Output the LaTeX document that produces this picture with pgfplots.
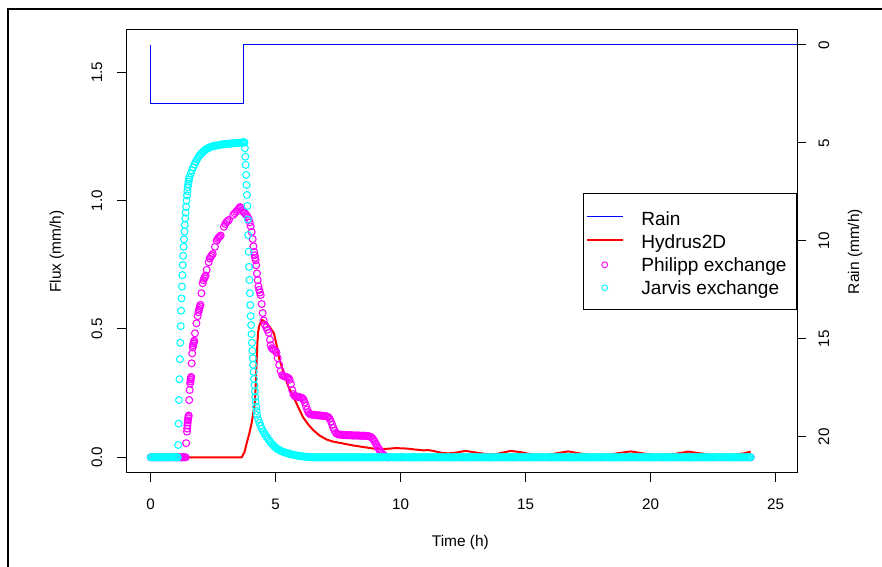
\documentclass[border=0pt]{standalone}
\usepackage{fontspec}
\setmainfont{Liberation Sans}
\usepackage{pgfplots}
\pgfplotsset{compat=1.18}
\definecolor{rmag}{RGB}{255,0,255}
\definecolor{rcyan}{RGB}{0,255,255}
\definecolor{rred}{RGB}{255,0,0}
\definecolor{rblue}{RGB}{0,0,255}
\pgfplotsset{
 rbase/.style={
  at={(94.875pt,70.5pt)}, anchor=south west,
  scale only axis, width=502.875pt, height=332.25pt,
  xmin=-0.968, xmax=25.852,
  tick align=outside, major tick length=6.75pt,
  tick style={black, line width=0.75pt},
  axis line style={black, line width=0.75pt},
  /pgf/number format/assume math mode=true,
  ticklabel style={font=\fontsize{11.4}{13}\selectfont},
 },
 rmarks/.style={only marks, mark=o, mark size=2.6pt, line width=0.8pt, forget plot},
 lineleg/.style={legend image code/.code={\draw[##1] (0pt,0pt) -- (27pt,0pt);}},
 markleg/.style={legend image code/.code={\draw[mark repeat=1,##1] plot coordinates {(13.5pt,-1.4pt)};}},
}
\begin{document}
\begin{tikzpicture}
\useasboundingbox (0pt,0pt) rectangle (661.5pt,425.25pt);
\draw[line width=1.5pt] (6.2pt,-3pt) -- (6.2pt,418.3pt) -- (665pt,418.3pt);
\begin{axis}[rbase,
  ymin=-0.0612, ymax=1.6646,
  xtick={0,5,10,15,20,25}, xtick pos=bottom,
  ytick={0,0.5,1,1.5}, yticklabels={0.0,0.5,1.0,1.5}, ytick pos=left,
  xticklabel style={anchor=center, yshift=-16.5pt},
  yticklabel style={xshift=-15.4pt, rotate=90, anchor=center},
  xlabel={Time (h)}, ylabel={Flux (mm/h)},
  every axis x label/.style={at={(axis description cs:0.498,-0.158)}, anchor=center, font=\fontsize{11.6}{14}\selectfont},
  every axis y label/.style={at={(axis description cs:-0.1037,0.5)}, rotate=90, anchor=center, font=\fontsize{11.6}{14}\selectfont},
  legend cell align=left,
  legend style={at={(1,0.632)}, anchor=north east, draw=black, line width=0.6pt, fill=white,
    inner xsep=2pt, inner ysep=9pt, font=\fontsize{14.3}{16}\selectfont, row sep=0pt,
    nodes={inner sep=0pt, text height=15pt, text depth=2.25pt},
    /tikz/every odd column/.append style={column sep=13.5pt}},
]
\addlegendimage{rblue, line width=0.75pt, lineleg}
\addlegendentry{Rain}
\addlegendimage{rred, line width=1pt, lineleg}
\addlegendentry{Hydrus2D}
\addlegendimage{only marks, mark=o, rmag, mark size=2.2pt, line width=0.7pt, markleg}
\addlegendentry{Philipp exchange\hspace*{5.5pt}}
\addlegendimage{only marks, mark=o, rcyan, mark size=2.2pt, line width=0.7pt, markleg}
\addlegendentry{Jarvis exchange}

% Hydrus2D
\addplot[rred, line width=1.5pt, line join=round, forget plot] coordinates {
(0,0)(3.64,0)(3.75,0.02)(3.84,0.055)(3.95,0.095)(4.04,0.135)(4.10,0.17)(4.17,0.215)
(4.21,0.30)(4.24,0.38)(4.27,0.45)(4.30,0.49)(4.35,0.515)(4.44,0.535)(4.50,0.533)
(4.64,0.522)(4.78,0.505)(4.93,0.483)(5.04,0.435)(5.14,0.385)(5.30,0.335)(5.50,0.277)
(5.77,0.223)(5.95,0.185)(6.10,0.155)(6.30,0.128)(6.50,0.106)(6.75,0.085)(7.04,0.069)
(7.30,0.061)(7.57,0.056)(8.10,0.046)(8.64,0.038)(8.90,0.034)(9.20,0.033)(9.44,0.033)
(9.6,0.034)(9.8,0.036)(10.0,0.035)(10.24,0.034)(10.6,0.030)(10.9,0.027)(11.1,0.028)
(11.3,0.025)(11.6,0.018)(11.9,0.015)(12.2,0.018)(12.6,0.025)(12.9,0.020)(13.4,0.013)
(13.8,0.012)(14.4,0.025)(14.8,0.020)(15.3,0.010)(15.8,0.008)(16.2,0.015)(16.7,0.023)
(17.1,0.016)(17.6,0.008)(18.2,0.008)(18.7,0.016)(19.2,0.023)(19.7,0.015)(20.3,0.007)
(20.9,0.012)(21.5,0.022)(22.0,0.015)(22.6,0.007)(23.2,0.008)(23.7,0.015)(24.0,0.022)};

% Philipp exchange
\addplot[rmarks, rmag] coordinates {
(0,0)(0.1,0)(0.2,0)(0.3,0)(0.4,0)(0.5,0)(0.6,0)(0.7,0)(0.8,0)(0.9,0)(1.0,0)
(1.05,0)(1.1,0)(1.15,0)(1.2,0)(1.25,0)(1.3,0)(1.35,0)(1.4,0)
(1.4167,0.055)(1.45,0.100)(1.46,0.112)(1.47,0.124)(1.48,0.135)(1.49,0.144)(1.50,0.152)
(1.51,0.158)(1.52,0.163)(1.54,0.223)(1.56,0.262)(1.58,0.288)(1.59,0.296)(1.60,0.303)
(1.61,0.309)(1.62,0.313)(1.64,0.366)(1.66,0.405)(1.68,0.428)(1.695,0.436)(1.71,0.443)
(1.725,0.449)(1.74,0.454)(1.77,0.483)(1.83,0.522)(1.88,0.550)(1.91,0.565)(1.93,0.574)
(1.95,0.581)(1.97,0.588)(1.99,0.594)(2.03,0.639)(2.08,0.678)(2.11,0.690)(2.14,0.697)
(2.17,0.703)(2.20,0.708)(2.24,0.730)(2.32,0.760)(2.36,0.774)(2.40,0.781)(2.44,0.787)
(2.48,0.792)(2.57,0.820)(2.64,0.844)(2.68,0.851)(2.72,0.856)(2.76,0.860)(2.80,0.864)
(2.93,0.898)(2.98,0.909)(3.03,0.916)(3.08,0.921)(3.13,0.925)(3.30,0.944)(3.36,0.951)
(3.42,0.957)(3.48,0.964)(3.53,0.969)(3.57,0.975)(3.62,0.972)(3.67,0.962)(3.72,0.955)
(3.77,0.950)(3.82,0.945)(3.87,0.938)(3.92,0.928)(3.96,0.915)(4.00,0.900)(4.04,0.878)
(4.08,0.850)(4.11,0.822)(4.14,0.800)(4.16,0.787)(4.18,0.777)(4.20,0.768)(4.22,0.748)
(4.25,0.716)(4.28,0.690)(4.31,0.666)(4.34,0.652)(4.37,0.642)(4.40,0.632)(4.44,0.597)
(4.48,0.562)(4.52,0.533)(4.57,0.516)(4.62,0.506)(4.67,0.497)(4.72,0.485)(4.77,0.458)
(4.80,0.437)(4.84,0.425)(4.89,0.421)(4.94,0.418)(4.99,0.415)(5.03,0.408)(5.08,0.386)
(5.14,0.360)(5.20,0.336)(5.26,0.320)(5.31,0.317)(5.36,0.315)(5.41,0.313)(5.46,0.311)
(5.51,0.309)(5.56,0.302)(5.61,0.285)(5.66,0.262)(5.71,0.246)(5.76,0.239)(5.81,0.237)
(5.86,0.236)(5.91,0.235)(5.96,0.234)(6.01,0.233)(6.06,0.231)(6.11,0.226)(6.16,0.214)
(6.21,0.200)(6.26,0.186)(6.31,0.175)(6.36,0.169)(6.41,0.167)(6.46,0.166)(6.51,0.165)
(6.56,0.165)(6.61,0.164)(6.66,0.164)(6.71,0.163)(6.76,0.163)(6.81,0.162)(6.86,0.162)
(6.91,0.161)(6.96,0.161)(7.01,0.160)(7.06,0.159)(7.11,0.156)(7.16,0.150)(7.21,0.140)
(7.26,0.127)(7.31,0.114)(7.36,0.103)(7.41,0.095)(7.46,0.091)(7.51,0.089)(7.56,0.088)
(7.61,0.088)(7.66,0.087)(7.71,0.087)(7.76,0.087)(7.81,0.086)(7.86,0.086)(7.91,0.086)
(7.96,0.086)(8.01,0.086)(8.06,0.085)(8.11,0.085)(8.16,0.085)(8.21,0.085)(8.26,0.085)
(8.31,0.085)(8.36,0.084)(8.41,0.084)(8.46,0.084)(8.51,0.084)(8.56,0.084)(8.61,0.083)
(8.66,0.083)(8.71,0.082)(8.76,0.081)(8.81,0.079)(8.86,0.075)(8.91,0.069)(8.96,0.061)
(9.01,0.052)(9.06,0.043)(9.11,0.035)(9.16,0.027)(9.21,0.020)(9.26,0.014)(9.31,0.009)
(9.36,0.005)(9.41,0.002)(9.46,0)(9.5,0)(10,0)(10.5,0)(11,0)(11.5,0)(12,0)(12.5,0)
(13,0)(13.5,0)(14,0)(14.5,0)(15,0)(15.5,0)(16,0)(16.5,0)(17,0)(17.5,0)(18,0)(18.5,0)
(19,0)(19.5,0)(20,0)(20.5,0)(21,0)(21.5,0)(22,0)(22.5,0)(23,0)(23.5,0)(24,0)};

% Jarvis exchange
\addplot[rmarks, rcyan] coordinates {
(0,0)(0.05,0)(0.1,0)(0.15,0)(0.2,0)(0.25,0)(0.3,0)(0.35,0)(0.4,0)(0.45,0)(0.5,0)
(0.55,0)(0.6,0)(0.65,0)(0.7,0)(0.75,0)(0.8,0)(0.85,0)(0.9,0)(0.95,0)(1.0,0)(1.05,0)
(1.0667,0)(1.0833,0)
(1.1,0.048)(1.1167,0.131)(1.1333,0.223)(1.15,0.304)(1.1667,0.382)(1.1833,0.446)
(1.2,0.511)(1.2167,0.571)(1.2333,0.619)(1.25,0.665)(1.2667,0.710)(1.2833,0.749)
(1.3,0.785)(1.3167,0.820)(1.3333,0.849)(1.35,0.879)(1.3667,0.905)(1.3833,0.931)
(1.4,0.953)(1.4167,0.976)(1.4333,1.000)(1.45,1.020)(1.4667,1.037)(1.4833,1.052)
(1.5,1.064)(1.5167,1.074)(1.5333,1.083)(1.55,1.091)(1.6,1.105)(1.65,1.118)(1.7,1.130)
(1.75,1.141)(1.8,1.151)(1.85,1.160)(1.9,1.168)(1.95,1.175)(2.0,1.181)(2.05,1.186)
(2.1,1.191)(2.15,1.195)(2.2,1.199)(2.25,1.202)(2.3,1.205)(2.35,1.207)(2.4,1.209)
(2.45,1.211)(2.5,1.212)(2.55,1.213)(2.6,1.214)(2.65,1.215)(2.7,1.216)(2.75,1.217)
(2.8,1.218)(2.85,1.219)(2.9,1.219)(2.95,1.220)(3.0,1.220)(3.05,1.221)(3.1,1.221)
(3.15,1.222)(3.2,1.222)(3.25,1.223)(3.3,1.223)(3.35,1.224)(3.4,1.224)(3.45,1.225)
(3.5,1.225)(3.55,1.225)(3.6,1.226)(3.65,1.226)(3.7,1.227)(3.7333,1.228)
(3.75,1.226)(3.7667,1.204)(3.7833,1.171)(3.8,1.139)(3.8167,1.100)(3.8333,1.061)
(3.85,1.022)(3.8667,0.979)(3.8833,0.926)(3.9,0.866)(3.9167,0.801)(3.9333,0.742)
(3.95,0.691)(3.9667,0.639)(3.9833,0.593)(4.0,0.550)(4.0167,0.515)(4.0333,0.480)
(4.05,0.446)(4.0667,0.415)(4.0833,0.386)(4.1,0.360)(4.1167,0.333)(4.1333,0.305)
(4.15,0.280)(4.1667,0.257)(4.1833,0.235)(4.2,0.215)(4.2167,0.197)(4.2333,0.180)
(4.25,0.165)(4.3,0.148)(4.35,0.134)(4.4,0.122)(4.45,0.111)(4.5,0.101)(4.55,0.093)
(4.6,0.085)(4.65,0.078)(4.7,0.071)(4.75,0.064)(4.8,0.058)(4.85,0.052)(4.9,0.047)
(4.95,0.042)(5.0,0.037)(5.05,0.034)(5.1,0.031)(5.15,0.028)(5.2,0.026)(5.25,0.023)
(5.3,0.021)(5.35,0.019)(5.4,0.018)(5.45,0.016)(5.5,0.015)(5.55,0.013)(5.6,0.012)
(5.65,0.011)(5.7,0.010)(5.75,0.009)(5.8,0.008)(5.85,0.007)(5.9,0.006)(5.95,0.005)
(6.0,0.004)(6.05,0.004)(6.1,0.003)(6.15,0.003)(6.2,0.002)(6.25,0.002)(6.3,0.001)
(6.35,0.001)(6.4,0)(6.45,0)(6.5,0)(6.55,0)(6.6,0)(6.65,0)(6.7,0)(6.75,0)(6.8,0)
(6.85,0)(6.9,0)(6.95,0)
(7,0)(7.05,0)(7.1,0)(7.15,0)(7.2,0)(7.25,0)(7.3,0)(7.35,0)(7.4,0)(7.45,0)(7.5,0)(7.55,0)(7.6,0)(7.65,0)(7.7,0)(7.75,0)(7.8,0)(7.85,0)(7.9,0)(7.95,0)
(8,0)(8.05,0)(8.1,0)(8.15,0)(8.2,0)(8.25,0)(8.3,0)(8.35,0)(8.4,0)(8.45,0)(8.5,0)(8.55,0)(8.6,0)(8.65,0)(8.7,0)(8.75,0)(8.8,0)(8.85,0)(8.9,0)(8.95,0)
(9,0)(9.05,0)(9.1,0)(9.15,0)(9.2,0)(9.25,0)(9.3,0)(9.35,0)(9.4,0)(9.45,0)(9.5,0)(9.55,0)(9.6,0)(9.65,0)(9.7,0)(9.75,0)(9.8,0)(9.85,0)(9.9,0)(9.95,0)
(10,0)(10.05,0)(10.1,0)(10.15,0)(10.2,0)(10.25,0)(10.3,0)(10.35,0)(10.4,0)(10.45,0)(10.5,0)(10.55,0)(10.6,0)(10.65,0)(10.7,0)(10.75,0)(10.8,0)(10.85,0)(10.9,0)(10.95,0)
(11,0)(11.05,0)(11.1,0)(11.15,0)(11.2,0)(11.25,0)(11.3,0)(11.35,0)(11.4,0)(11.45,0)(11.5,0)(11.55,0)(11.6,0)(11.65,0)(11.7,0)(11.75,0)(11.8,0)(11.85,0)(11.9,0)(11.95,0)
(12,0)(12.05,0)(12.1,0)(12.15,0)(12.2,0)(12.25,0)(12.3,0)(12.35,0)(12.4,0)(12.45,0)(12.5,0)(12.55,0)(12.6,0)(12.65,0)(12.7,0)(12.75,0)(12.8,0)(12.85,0)(12.9,0)(12.95,0)
(13,0)(13.05,0)(13.1,0)(13.15,0)(13.2,0)(13.25,0)(13.3,0)(13.35,0)(13.4,0)(13.45,0)(13.5,0)(13.55,0)(13.6,0)(13.65,0)(13.7,0)(13.75,0)(13.8,0)(13.85,0)(13.9,0)(13.95,0)
(14,0)(14.05,0)(14.1,0)(14.15,0)(14.2,0)(14.25,0)(14.3,0)(14.35,0)(14.4,0)(14.45,0)(14.5,0)(14.55,0)(14.6,0)(14.65,0)(14.7,0)(14.75,0)(14.8,0)(14.85,0)(14.9,0)(14.95,0)
(15,0)(15.05,0)(15.1,0)(15.15,0)(15.2,0)(15.25,0)(15.3,0)(15.35,0)(15.4,0)(15.45,0)(15.5,0)(15.55,0)(15.6,0)(15.65,0)(15.7,0)(15.75,0)(15.8,0)(15.85,0)(15.9,0)(15.95,0)
(16,0)(16.05,0)(16.1,0)(16.15,0)(16.2,0)(16.25,0)(16.3,0)(16.35,0)(16.4,0)(16.45,0)(16.5,0)(16.55,0)(16.6,0)(16.65,0)(16.7,0)(16.75,0)(16.8,0)(16.85,0)(16.9,0)(16.95,0)
(17,0)(17.05,0)(17.1,0)(17.15,0)(17.2,0)(17.25,0)(17.3,0)(17.35,0)(17.4,0)(17.45,0)(17.5,0)(17.55,0)(17.6,0)(17.65,0)(17.7,0)(17.75,0)(17.8,0)(17.85,0)(17.9,0)(17.95,0)
(18,0)(18.05,0)(18.1,0)(18.15,0)(18.2,0)(18.25,0)(18.3,0)(18.35,0)(18.4,0)(18.45,0)(18.5,0)(18.55,0)(18.6,0)(18.65,0)(18.7,0)(18.75,0)(18.8,0)(18.85,0)(18.9,0)(18.95,0)
(19,0)(19.05,0)(19.1,0)(19.15,0)(19.2,0)(19.25,0)(19.3,0)(19.35,0)(19.4,0)(19.45,0)(19.5,0)(19.55,0)(19.6,0)(19.65,0)(19.7,0)(19.75,0)(19.8,0)(19.85,0)(19.9,0)(19.95,0)
(20,0)(20.05,0)(20.1,0)(20.15,0)(20.2,0)(20.25,0)(20.3,0)(20.35,0)(20.4,0)(20.45,0)(20.5,0)(20.55,0)(20.6,0)(20.65,0)(20.7,0)(20.75,0)(20.8,0)(20.85,0)(20.9,0)(20.95,0)
(21,0)(21.05,0)(21.1,0)(21.15,0)(21.2,0)(21.25,0)(21.3,0)(21.35,0)(21.4,0)(21.45,0)(21.5,0)(21.55,0)(21.6,0)(21.65,0)(21.7,0)(21.75,0)(21.8,0)(21.85,0)(21.9,0)(21.95,0)
(22,0)(22.05,0)(22.1,0)(22.15,0)(22.2,0)(22.25,0)(22.3,0)(22.35,0)(22.4,0)(22.45,0)(22.5,0)(22.55,0)(22.6,0)(22.65,0)(22.7,0)(22.75,0)(22.8,0)(22.85,0)(22.9,0)(22.95,0)
(23,0)(23.05,0)(23.1,0)(23.15,0)(23.2,0)(23.25,0)(23.3,0)(23.35,0)(23.4,0)(23.45,0)(23.5,0)(23.55,0)(23.6,0)(23.65,0)(23.7,0)(23.75,0)(23.8,0)(23.85,0)(23.9,0)(23.95,0)
(24,0)};
\end{axis}
\begin{axis}[rbase,
  ymin=-0.765, ymax=21.84, y dir=reverse,
  axis x line=none, axis y line*=right,
  ytick={0,5,10,15,20}, ytick pos=right,
  yticklabel style={xshift=13.5pt, rotate=90, anchor=center},
  ylabel={Rain (mm/h)},
  every axis y label/.style={at={(axis description cs:1.0865,0.5)}, rotate=90, anchor=center, font=\fontsize{11.6}{14}\selectfont},
]
\addplot[rblue, line width=0.75pt] coordinates {(0,0)(0,3)(3.72,3)(3.72,0)(25.852,0)};
\end{axis}
\end{tikzpicture}
\end{document}
